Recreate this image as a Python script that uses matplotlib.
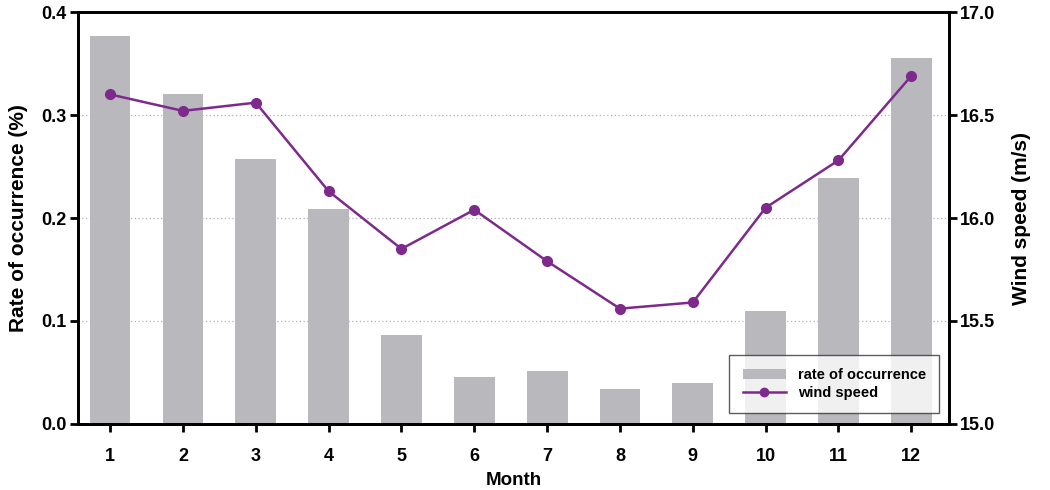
import matplotlib
matplotlib.use("Agg")
import matplotlib.pyplot as plt
from matplotlib.lines import Line2D
from matplotlib.patches import Patch

months = [1, 2, 3, 4, 5, 6, 7, 8, 9, 10, 11, 12]
rate = [0.377, 0.320, 0.257, 0.209, 0.086, 0.046, 0.051, 0.034, 0.040, 0.110, 0.239, 0.355]
wind = [16.60, 16.52, 16.56, 16.13, 15.85, 16.04, 15.79, 15.56, 15.59, 16.05, 16.28, 16.69]
left_ticks = [0.0, 0.1, 0.2, 0.3, 0.4]
right_ticks = [15.0, 15.5, 16.0, 16.5, 17.0]

plt.rcParams['font.family'] = ['Liberation Sans', 'DejaVu Sans']
plt.rcParams['font.weight'] = 'bold'

fig = plt.figure(figsize=(10.5, 4.9), dpi=100)
ax = fig.add_axes([0.0743, 0.1347, 0.8297, 0.8408])
bar_color = '#b9b9bd'
line_color = '#7d2a8c'

ax.bar(months, rate, width=0.56, color=bar_color, zorder=2)
ax.set_xlim(0.56, 12.52)
ax.set_ylim(0, 0.4)
ax.set_yticks(left_ticks)
ax.set_yticklabels([f"{v:.1f}" for v in left_ticks])
ax.set_xticks(months)
for y in [0.1, 0.2, 0.3]:
    ax.axhline(y, color='#b0b0b0', linestyle=(0, (1, 2)), linewidth=0.9, zorder=1)

ax2 = ax.twinx()
ax2.plot(months, wind, color=line_color, marker='o', markersize=7, linewidth=1.8, zorder=3)
ax2.set_ylim(15.0, 17.0)
ax2.set_yticks(right_ticks)
ax2.set_yticklabels([f"{v:.1f}" for v in right_ticks])

for a in (ax, ax2):
    for s in a.spines.values():
        s.set_linewidth(2.0)
    a.tick_params(direction='out', length=6, width=2, labelsize=13, pad=2)
ax.tick_params(axis='x', pad=11)

ax.set_xlabel('Month', fontsize=13.5, fontweight='bold', labelpad=5)
ax.set_ylabel('Rate of occurrence (%)', fontsize=15, fontweight='bold', labelpad=10)
ax2.set_ylabel('Wind speed (m/s)', fontsize=15, fontweight='bold', labelpad=12)

handles = [Patch(facecolor=bar_color, edgecolor='none'),
           Line2D([0], [0], color=line_color, marker='o', markersize=6, linewidth=1.8)]
leg = ax2.legend(handles, ['rate of occurrence', 'wind speed'], loc='lower right',
                 bbox_to_anchor=(0.9885, 0.027), borderaxespad=0, frameon=True, fancybox=False,
                 edgecolor='#333333', prop={'size': 10.5, 'weight': 'bold'},
                 handlelength=3.0, borderpad=0.9, labelspacing=0.25)
leg.get_frame().set_linewidth(1.0)

fig.savefig('out.png', dpi=100)
